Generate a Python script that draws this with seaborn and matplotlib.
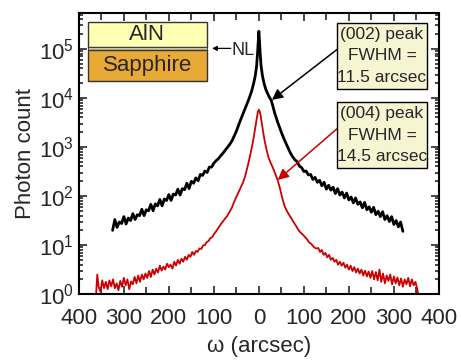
import numpy as np
import pandas as pd
import matplotlib
matplotlib.use('Agg')
import matplotlib.pyplot as plt
import seaborn as sns
from matplotlib.patches import Rectangle
from matplotlib.ticker import MultipleLocator, FuncFormatter, LogLocator

# (002) rocking curve, omega in arcsec, log10 of photon count
omega_002 = [-325, -320, -315, -310, -305, -300, -295, -290, -285, -280, -275, -270, -265, -260,
             -255, -250, -245, -240, -235, -230, -225, -220, -215, -210, -205, -200, -195, -190,
             -185, -180, -175, -170, -165, -160, -155, -150, -145, -140, -135, -130, -125, -120,
             -115, -110, -105, -100, -95, -90, -85, -80, -75, -70, -65,
             -60, -50, -42, -35, -28, -22, -16, -12, -8, -5, -3, -1.5, 0,
             1.5, 3, 5, 8, 12, 16, 22, 28, 35, 42, 50, 57, 65,
             70, 75, 80, 85, 90, 95, 100, 105, 110, 115, 120, 125, 130, 135, 140, 145, 150,
             155, 160, 165, 170, 175, 180, 185, 190, 195, 200, 205, 210, 215, 220, 225, 230,
             235, 240, 245, 250, 255, 260, 265, 270, 275, 280, 285, 290, 295, 300, 305, 310,
             315, 320]
log_002 = [1.30, 1.52, 1.36, 1.47, 1.44, 1.58, 1.43, 1.55, 1.50, 1.64, 1.52, 1.62, 1.60, 1.73,
           1.60, 1.72, 1.70, 1.83, 1.70, 1.84, 1.80, 1.93, 1.80, 1.94, 1.91, 2.03, 1.91, 2.04,
           2.02, 2.14, 2.02, 2.15, 2.13, 2.26, 2.15, 2.30, 2.26, 2.37, 2.31, 2.44, 2.42, 2.51,
           2.48, 2.59, 2.59, 2.67, 2.72, 2.76, 2.82, 2.87, 2.93, 2.99, 3.05,
           3.12, 3.32, 3.52, 3.68, 3.84, 3.98, 4.14, 4.28, 4.45, 4.65, 4.90, 5.15, 5.36,
           5.15, 4.90, 4.65, 4.45, 4.28, 4.16, 4.04, 3.94, 3.70, 3.50, 3.30, 3.14, 2.98,
           2.88, 2.80, 2.74, 2.70, 2.61, 2.58, 2.50, 2.51, 2.43, 2.44, 2.34, 2.38, 2.28, 2.32,
           2.21, 2.28, 2.14, 2.22, 2.12, 2.18, 2.05, 2.15, 2.02, 2.08, 1.96, 2.06, 1.92, 1.98,
           1.86, 1.96, 1.83, 1.88, 1.76, 1.87, 1.72, 1.78, 1.67, 1.77, 1.62, 1.69, 1.58, 1.68,
           1.52, 1.60, 1.48, 1.58, 1.42, 1.50, 1.37, 1.47, 1.28]

# (004) rocking curve
omega_004 = [-362, -359, -356, -352, -348, -344, -340, -336, -332, -328, -324, -320, -316, -312,
             -308, -304, -300, -296, -292, -288, -284, -280, -276, -272, -268, -264, -260, -256,
             -252, -248, -244, -240, -236, -232, -228, -224, -220, -216, -212, -208, -204, -200,
             -196, -192, -188, -184, -180, -176, -172, -168, -164, -160, -156, -152, -148, -144,
             -140, -136, -132, -128, -124, -120, -116, -112, -108, -104, -100, -95, -90, -85,
             -80, -75, -70, -65, -60, -55, -50, -45, -40, -35, -30, -25, -20, -15, -11, -7, -4,
             -2, 0,
             2, 4, 7, 10, 13, 17, 21, 26, 31, 36, 42, 47, 52, 57, 62, 67, 72, 77, 82, 87, 92, 97,
             102, 107, 112, 117, 122, 127, 132, 136, 140, 144, 148, 152, 156, 160, 164, 168, 172,
             176, 180, 184, 188, 192, 196, 200, 204, 208, 212, 216, 220, 224, 228, 232, 236, 240,
             244, 248, 252, 256, 260, 264, 268, 272, 276, 280, 284, 288, 292, 296, 300, 304, 308,
             312, 316, 320, 324, 328, 332, 336, 340, 344, 348, 352, 355]
log_004 = [-0.05, 0.40, 0.15, 0.05, 0.28, 0.12, 0.25, 0.10, 0.28, 0.16, 0.30, 0.12, 0.22, 0.08,
           0.27, 0.15, 0.33, 0.18, 0.30, 0.10, 0.26, 0.20, 0.35, 0.22, 0.38, 0.25, 0.40, 0.30,
           0.42, 0.33, 0.47, 0.35, 0.50, 0.40, 0.52, 0.44, 0.58, 0.48, 0.56, 0.50, 0.62, 0.55,
           0.60, 0.52, 0.66, 0.58, 0.70, 0.62, 0.72, 0.66, 0.76, 0.70, 0.80, 0.76, 0.86, 0.80,
           0.88, 0.86, 0.93, 0.92, 0.99, 1.00, 1.06, 1.08, 1.14, 1.16, 1.22, 1.28, 1.35, 1.42,
           1.48, 1.54, 1.60, 1.68, 1.76, 1.88, 1.98, 2.08, 2.18, 2.28, 2.42, 2.60, 2.80, 3.02,
           3.22, 3.45, 3.62, 3.72, 3.76,
           3.72, 3.64, 3.46, 3.28, 3.12, 2.95, 2.80, 2.68, 2.58, 2.46, 2.32, 2.15, 1.96, 1.80,
           1.70, 1.62, 1.55, 1.47, 1.40, 1.32, 1.26, 1.22, 1.17, 1.12, 1.05, 1.02, 0.96, 0.93,
           0.94, 0.86, 0.90, 0.80, 0.84, 0.75, 0.80, 0.70, 0.74, 0.66, 0.70, 0.60, 0.66, 0.58,
           0.64, 0.54, 0.60, 0.50, 0.58, 0.47, 0.55, 0.44, 0.52, 0.42, 0.50, 0.38, 0.48, 0.36,
           0.46, 0.33, 0.47, 0.30, 0.45, 0.28, 0.50, 0.25, 0.42, 0.22, 0.38, 0.27, 0.40, 0.20,
           0.36, 0.22, 0.34, 0.18, 0.32, 0.15, 0.30, 0.20, 0.33, 0.16, 0.30, 0.18, 0.25, 0.10,
           -0.05]

x_ticks = [-400, -300, -200, -100, 0, 100, 200, 300, 400]
peak_002_text = "(002) peak\nFWHM =\n11.5 arcsec"
peak_004_text = "(004) peak\nFWHM =\n14.5 arcsec"

sns.set_theme(style='ticks')
plt.rcParams['font.family'] = ['Liberation Sans', 'DejaVu Sans']
plt.rcParams['mathtext.fontset'] = 'custom'
plt.rcParams['mathtext.rm'] = 'Liberation Sans'

df_002 = pd.DataFrame({'omega': omega_002, 'count': 10 ** np.array(log_002)})
df_004 = pd.DataFrame({'omega': omega_004, 'count': 10 ** np.array(log_004)})

fig = plt.figure(figsize=(4.61, 3.6), dpi=100)
ax = fig.add_axes([0.171, 0.183, 0.781, 0.781])

sns.lineplot(data=df_002, x='omega', y='count', color='black', lw=2.0,
             estimator=None, sort=False, legend=False, ax=ax)
sns.lineplot(data=df_004, x='omega', y='count', color='#cc0000', lw=1.3,
             estimator=None, sort=False, legend=False, ax=ax)

ax.set_yscale('log')
ax.set_xlim(-400, 400)
ax.set_ylim(1, 5.4e5)
ax.set_xticks(x_ticks)
ax.xaxis.set_minor_locator(MultipleLocator(50))
ax.xaxis.set_major_formatter(FuncFormatter(lambda v, p: f"{abs(int(v))}"))
ax.yaxis.set_major_locator(LogLocator(base=10, numticks=10))
ax.yaxis.set_minor_locator(LogLocator(base=10, subs=np.arange(2, 10), numticks=10))

ax.tick_params(which='both', direction='in', top=True, right=True, width=1.2, labelsize=16)
ax.tick_params(which='major', length=6)
ax.tick_params(which='minor', length=3)
ax.tick_params(axis='x', which='minor', length=5)
ax.tick_params(axis='x', which='major', pad=10)
for s in ax.spines.values():
    s.set_linewidth(1.5)
    s.set_color('black')

ax.set_xlabel('ω (arcsec)', fontsize=16, labelpad=5)
ax.set_ylabel('Photon count', fontsize=16, labelpad=2)

# layer stack inset
tr = ax.transAxes
ax.add_patch(Rectangle((0.025, 0.879), 0.331, 0.089, transform=tr, facecolor='#ffffb4',
                       edgecolor='#333333', lw=1.0, zorder=5))
ax.add_patch(Rectangle((0.025, 0.868), 0.331, 0.011, transform=tr, facecolor='#c8c8a0',
                       edgecolor='#333333', lw=0.6, zorder=5))
ax.add_patch(Rectangle((0.025, 0.758), 0.331, 0.110, transform=tr, facecolor='#e9a935',
                       edgecolor='#333333', lw=1.0, zorder=5))
ax.text(0.190, 0.922, 'AlN', transform=tr, ha='center', va='center', fontsize=16, zorder=6)
ax.text(0.190, 0.812, 'Sapphire', transform=tr, ha='center', va='center', fontsize=16, zorder=6)
ax.annotate('', xy=(0.370, 0.874), xytext=(0.422, 0.874), xycoords=tr, textcoords=tr,
            arrowprops=dict(arrowstyle='-|>', color='black', lw=0.9, mutation_scale=7,
                            shrinkA=0, shrinkB=0))
ax.text(0.425, 0.866, 'NL', transform=tr, ha='left', va='center', fontsize=13)

# peak annotation boxes
for y0, txt, tip, col in [(0.730, peak_002_text, (29, 9100), 'black'),
                          (0.448, peak_004_text, (42, 213), '#cc0000')]:
    ax.add_patch(Rectangle((0.717, y0), 0.25, 0.236, transform=tr, facecolor='#f5f5d2',
                           edgecolor='black', lw=1.0, zorder=5))
    ax.text(0.842, y0 + 0.117, txt, transform=tr, ha='center', va='center', fontsize=12.5,
            linespacing=1.55, zorder=6)
    ax.annotate('', xy=tip, xycoords='data', xytext=(0.717, y0 + 0.14), textcoords=tr,
                arrowprops=dict(arrowstyle='-|>', color=col, lw=1.1, mutation_scale=16,
                                shrinkA=0, shrinkB=0))

fig.savefig('out.png', dpi=100)
